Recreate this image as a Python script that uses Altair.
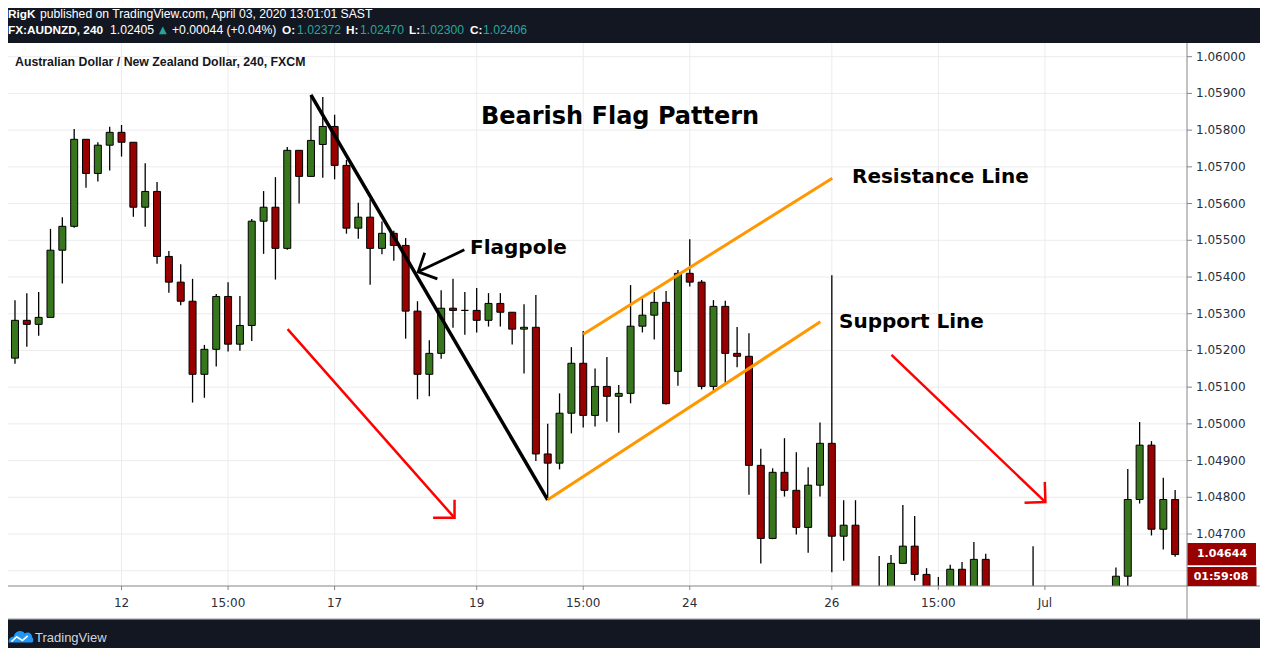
import altair as alt
import pandas as pd

# ---------------- candle data (AUD/NZD, 240) ----------------
opens = [
    1.05179, 1.05282, 1.05271, 1.05290, 1.05473, 1.05538, 1.05775, 1.05682, 1.05759, 1.05794,
    1.05767, 1.05590, 1.05633, 1.05456, 1.05386, 1.05334, 1.05135, 1.05203, 1.05347, 1.05217,
    1.05268, 1.05552, 1.05590, 1.05478, 1.05745, 1.05674, 1.05761, 1.05810, 1.05704, 1.05533,
    1.05563, 1.05478, 1.05519, 1.05486, 1.05307, 1.05135, 1.05192, 1.05315, 1.05309, 1.05309,
    1.05282, 1.05328, 1.05304, 1.05258, 1.05263, 1.04918, 1.04893, 1.05029, 1.05165, 1.05023,
    1.05102, 1.05075, 1.05083, 1.05266, 1.05296, 1.05331, 1.05143, 1.05410, 1.05386, 1.05102,
    1.05320, 1.05192, 1.05184, 1.04887, 1.04688, 1.04868, 1.04819, 1.04718, 1.04833, 1.04947,
    1.04694, 1.04724, 1.04480, 1.04510, 1.04530, 1.04620, 1.04667, 1.04590, 1.04500, 1.04510,
    1.04604, 1.04520, 1.04631, 1.04530, 1.04500, 1.04470, 1.04480, 1.04500, 1.04470, 1.04450,
    1.04480, 1.04500, 1.04520, 1.04530, 1.04585, 1.04794, 1.04942, 1.04713, 1.04794,
]
highs = [
    1.05337, 1.05356, 1.05359, 1.05531, 1.05563, 1.05803, 1.05775, 1.05767, 1.05809, 1.05814,
    1.05767, 1.05710, 1.05659, 1.05471, 1.05435, 1.05395, 1.05215, 1.05354, 1.05386, 1.05348,
    1.05558, 1.05634, 1.05672, 1.05754, 1.05745, 1.05896, 1.05890, 1.05842, 1.05719, 1.05602,
    1.05612, 1.05551, 1.05526, 1.05506, 1.05334, 1.05228, 1.05364, 1.05395, 1.05359, 1.05370,
    1.05356, 1.05356, 1.05304, 1.05326, 1.05351, 1.05000, 1.05083, 1.05209, 1.05253, 1.05151,
    1.05182, 1.05106, 1.05378, 1.05342, 1.05359, 1.05362, 1.05419, 1.05503, 1.05392, 1.05337,
    1.05335, 1.05264, 1.05247, 1.04932, 1.04879, 1.04961, 1.04923, 1.04882, 1.05004, 1.05405,
    1.04792, 1.04792, 1.04540, 1.04640, 1.04643, 1.04779, 1.04749, 1.04607, 1.04583, 1.04616,
    1.04624, 1.04678, 1.04646, 1.04550, 1.04530, 1.04520, 1.04667, 1.04540, 1.04510, 1.04500,
    1.04530, 1.04540, 1.04550, 1.04609, 1.04877, 1.05005, 1.04953, 1.04853, 1.04820,
]
lows = [
    1.05164, 1.05210, 1.05240, 1.05290, 1.05382, 1.05534, 1.05643, 1.05660, 1.05690, 1.05728,
    1.05564, 1.05537, 1.05436, 1.05357, 1.05323, 1.05058, 1.05071, 1.05156, 1.05197, 1.05199,
    1.05226, 1.05463, 1.05393, 1.05474, 1.05600, 1.05674, 1.05670, 1.05666, 1.05518, 1.05504,
    1.05379, 1.05462, 1.05444, 1.05232, 1.05067, 1.05075, 1.05177, 1.05262, 1.05243, 1.05249,
    1.05265, 1.05265, 1.05216, 1.05137, 1.04899, 1.04793, 1.04876, 1.04974, 1.04990, 1.04993,
    1.05006, 1.04976, 1.05056, 1.05249, 1.05230, 1.05053, 1.05104, 1.05374, 1.05094, 1.05090,
    1.05112, 1.05154, 1.04807, 1.04620, 1.04686, 1.04802, 1.04699, 1.04649, 1.04802, 1.04596,
    1.04627, 1.04450, 1.04420, 1.04460, 1.04500, 1.04620, 1.04573, 1.04470, 1.04460, 1.04490,
    1.04500, 1.04510, 1.04500, 1.04480, 1.04450, 1.04420, 1.04440, 1.04430, 1.04410, 1.04400,
    1.04430, 1.04460, 1.04480, 1.04510, 1.04550, 1.04783, 1.04696, 1.04658, 1.04638,
]
closes = [
    1.05282, 1.05271, 1.05290, 1.05473, 1.05538, 1.05775, 1.05682, 1.05759, 1.05794, 1.05767,
    1.05590, 1.05633, 1.05456, 1.05386, 1.05334, 1.05135, 1.05203, 1.05347, 1.05217, 1.05268,
    1.05552, 1.05590, 1.05478, 1.05745, 1.05674, 1.05772, 1.05810, 1.05704, 1.05533, 1.05563,
    1.05478, 1.05519, 1.05486, 1.05307, 1.05135, 1.05192, 1.05315, 1.05309, 1.05309, 1.05282,
    1.05328, 1.05304, 1.05258, 1.05263, 1.04918, 1.04893, 1.05029, 1.05165, 1.05023, 1.05102,
    1.05075, 1.05083, 1.05266, 1.05296, 1.05331, 1.05055, 1.05410, 1.05386, 1.05102, 1.05320,
    1.05192, 1.05184, 1.04887, 1.04688, 1.04868, 1.04819, 1.04718, 1.04833, 1.04947, 1.04694,
    1.04724, 1.04480, 1.04510, 1.04530, 1.04620, 1.04667, 1.04590, 1.04500, 1.04510, 1.04604,
    1.04520, 1.04631, 1.04530, 1.04500, 1.04470, 1.04480, 1.04500, 1.04470, 1.04450, 1.04480,
    1.04500, 1.04520, 1.04530, 1.04585, 1.04794, 1.04942, 1.04713, 1.04794, 1.04644,
]
slots = list(range(len(opens)))

# axis ticks
x_tick_pos = [9, 18, 27, 39, 48, 57, 69, 78, 87]
x_tick_labels = ["12", "15:00", "17", "19", "15:00", "24", "26", "15:00", "Jul"]
y_ticks = [1.046, 1.047, 1.048, 1.049, 1.050, 1.051, 1.052, 1.053,
           1.054, 1.055, 1.056, 1.057, 1.058, 1.059, 1.060]

# annotation drawings (bar slot, price)
flagpole_x, flagpole_y = [25, 45], [1.05896, 1.04793]
resist_x, resist_y = [48, 69.04], [1.05244, 1.05669]
support_x, support_y = [45, 68.03], [1.04793, 1.05278]
pointer_x, pointer_y = [37.96, 34.06], [1.05474, 1.05414]
pointer_head_x, pointer_head_y = [34.61, 34.06, 35.68], [1.05466, 1.05414, 1.05395]
arrow1_x, arrow1_y = [23.03, 37.13], [1.05258, 1.04744]
arrow1_head_x, arrow1_head_y = [37.13, 37.13, 35.32], [1.04793, 1.04744, 1.04744]
arrow2_x, arrow2_y = [74.04, 87.04], [1.05188, 1.04787]
arrow2_head_x, arrow2_head_y = [86.99, 87.04, 85.28], [1.04842, 1.04787, 1.04785]

last_price = "1.04644"
countdown = "01:59:08"

# ---------------- build ----------------
GREEN = "#38761d"
RED = "#990000"
GRID = "#ececec"
AXIS = "#858585"
LABEL = "#2a2e39"
DARK = "#131722"
TEAL = "#26a69a"
WHITE = "#ffffff"
W, H = 1179, 543

df = pd.DataFrame({"i": slots, "open": opens, "high": highs, "low": lows, "close": closes})
df["dir"] = ["up" if c >= o else "down" for o, c in zip(opens, closes)]

xscale = alt.Scale(domain=[-0.1675, 98.58], nice=False, zero=False)
yscale = alt.Scale(domain=[1.045584, 1.060373], nice=False, zero=False)


def X(field):
    return alt.X(field, scale=xscale, axis=None)


def Y(field):
    return alt.Y(field, scale=yscale, axis=None)


xt = pd.DataFrame({"pos": x_tick_pos, "lab": x_tick_labels})
yt = pd.DataFrame({"p": y_ticks, "lab": [f"{v:.5f}" for v in y_ticks]})

# gridlines and axes built from the tick lists through the scales
grid_h = alt.Chart(yt).mark_rule(color=GRID, strokeWidth=1).encode(
    y=Y("p:Q"), x=alt.value(0), x2=alt.value(W))
grid_v = alt.Chart(xt).mark_rule(color=GRID, strokeWidth=1).encode(
    x=X("pos:Q"), y=alt.value(0), y2=alt.value(H))
y_ticks_m = alt.Chart(yt).mark_rule(color=AXIS, strokeWidth=1).encode(
    y=Y("p:Q"), x=alt.value(W), x2=alt.value(W + 5))
# the lowest label sits under the countdown box in the reference, so it is not drawn
y_labels = alt.Chart(yt).transform_filter("datum.p > 1.0465").mark_text(
    align="left", baseline="middle", font="DejaVu Sans", fontSize=12, color=LABEL).encode(
    y=Y("p:Q"), x=alt.value(W + 9), text="lab:N")
x_ticks_m = alt.Chart(xt).mark_rule(color=AXIS, strokeWidth=1).encode(
    x=X("pos:Q"), y=alt.value(H), y2=alt.value(H + 4))
x_labels = alt.Chart(xt).mark_text(align="center", baseline="middle", font="DejaVu Sans",
                                   fontSize=12, color=LABEL).encode(
    x=X("pos:Q"), y=alt.value(H + 17), text="lab:N")

wicks = alt.Chart(df).mark_rule(color="black", strokeWidth=1.3, clip=True).encode(
    x=X("i:Q"), y=Y("low:Q"), y2="high:Q")
bodies = alt.Chart(df).mark_bar(size=7, stroke="black", strokeWidth=1, clip=True).encode(
    x=X("i:Q"), y=Y("open:Q"), y2="close:Q",
    color=alt.Color("dir:N", scale=alt.Scale(domain=["up", "down"], range=[GREEN, RED]), legend=None),
)


def poly(xs, ys, color, width):
    d = pd.DataFrame({"x": xs, "y": ys, "k": list(range(len(xs)))})
    return alt.Chart(d).mark_line(color=color, strokeWidth=width, clip=True).encode(
        x=X("x:Q"), y=Y("y:Q"), order=alt.Order("k:Q"))


one = pd.DataFrame({"k": [0]})


def box(x1, x2, y1, y2, fill):
    return alt.Chart(one).mark_rect(fill=fill).encode(
        x=alt.value(x1), x2=alt.value(x2), y=alt.value(y1), y2=alt.value(y2))


def hline(x1, x2, y, color):
    return alt.Chart(one).mark_rule(color=color, strokeWidth=1).encode(
        x=alt.value(x1), x2=alt.value(x2), y=alt.value(y))


def vline(x, y1, y2, color):
    return alt.Chart(one).mark_rule(color=color, strokeWidth=1).encode(
        x=alt.value(x), y=alt.value(y1), y2=alt.value(y2))


def label(txt, x, y, size=12, color="#000000", weight="normal", font="Liberation Sans", align="left"):
    return alt.Chart(one).mark_text(text=txt, align=align, baseline="middle", fontSize=size,
                                    color=color, fontWeight=weight, font=font).encode(
        x=alt.value(x), y=alt.value(y))


# TradingView cloud logo as custom symbol paths
CLOUD = ("M -1 0.5 C -1.05 0.2 -0.85 0.0 -0.6 0.02 C -0.5 -0.45 0.05 -0.6 0.3 -0.25 "
         "C 0.55 -0.45 0.95 -0.25 0.9 0.08 C 1.05 0.12 1.05 0.5 0.85 0.5 Z")
ZIGZAG = "M -0.78 0.42 L -0.35 0.02 L 0.12 0.32 L 0.55 -0.05"
logo_cloud = alt.Chart(one).mark_point(shape=CLOUD, filled=True, fill="#2196f3", opacity=1,
                                       size=600, strokeWidth=0).encode(
    x=alt.value(13), y=alt.value(593.5))
logo_zig = alt.Chart(one).mark_point(shape=ZIGZAG, filled=False, stroke=WHITE, opacity=1,
                                     size=600, strokeWidth=1.6).encode(
    x=alt.value(13), y=alt.value(593.5))

HF = 12.2  # header font size
HB = 11.8  # header bold font size
L1, L2 = -28.8, -13
layers = [
    grid_h, grid_v,
    wicks, bodies,
    poly(flagpole_x, flagpole_y, "#000000", 3.5),
    poly(pointer_x, pointer_y, "#000000", 2.8),
    poly(pointer_head_x, pointer_head_y, "#000000", 2.8),
    poly(resist_x, resist_y, "#ff9800", 3),
    poly(support_x, support_y, "#ff9800", 3),
    poly(arrow1_x, arrow1_y, "#ff0000", 2.5),
    poly(arrow1_head_x, arrow1_head_y, "#ff0000", 2.5),
    poly(arrow2_x, arrow2_y, "#ff0000", 2.5),
    poly(arrow2_head_x, arrow2_head_y, "#ff0000", 2.5),
    label("Bearish Flag Pattern", 473, 74, size=24, weight="bold", font="DejaVu Sans"),
    label("Flagpole", 462, 205, size=20, weight="bold", font="DejaVu Sans"),
    label("Resistance Line", 844, 134, size=20, weight="bold", font="DejaVu Sans"),
    label("Support Line", 831, 279, size=20, weight="bold", font="DejaVu Sans"),
    label("Australian Dollar / New Zealand Dollar, 240, FXCM", 7, 18.5, size=12.3,
          weight="bold", color="#131722"),
    # axes
    y_ticks_m, y_labels, x_ticks_m, x_labels,
    vline(W, 0, 576, AXIS),
    hline(0, 1253, H, AXIS),
    hline(0, 1253, 576, "#9598a1"),
    # dark surround
    box(-10, 1262, -40, 0, DARK),
    box(-10, 1262, 576.5, 610, DARK),
    box(1253, 1262, -40, 610, DARK),
    # last price / countdown boxes
    box(1179.5, 1248, 500, 522.3, RED),
    box(1179.5, 1248.5, 524, 543, RED),
    label(last_price, 1214, 511, size=11, color=WHITE, weight="bold", font="DejaVu Sans", align="center"),
    label(countdown, 1213, 534, size=11, color=WHITE, weight="bold", font="DejaVu Sans", align="center"),
    # header line 1
    label("RigK", 0, L1, size=HB, color=WHITE, weight="bold"),
    label("published on TradingView.com, April 03, 2020 13:01:01 SAST", 32, L1, size=HF, color=WHITE),
    # header line 2
    label("FX:AUDNZD, 240", 0, L2, size=HB, color=WHITE, weight="bold"),
    label("1.02405", 102, L2, size=HF, color=WHITE),
    label("\u25b2", 151, L2, color=TEAL, size=10, font="DejaVu Sans"),
    label("+0.00044 (+0.04%)", 164, L2, size=HF, color=WHITE),
    label("O:", 274, L2, size=HB, color=WHITE, weight="bold"),
    label("1.02372", 289, L2, size=HF, color=TEAL),
    label("H:", 338, L2, size=HB, color=WHITE, weight="bold"),
    label("1.02470", 352, L2, size=HF, color=TEAL),
    label("L:", 401, L2, size=HB, color=WHITE, weight="bold"),
    label("1.02300", 412, L2, size=HF, color=TEAL),
    label("C:", 462, L2, size=HB, color=WHITE, weight="bold"),
    label("1.02406", 475, L2, size=HF, color=TEAL),
    # footer logo
    logo_cloud, logo_zig,
    label("TradingView", 27, 594.7, size=13, color="#d1d4dc"),
]

chart = alt.layer(*layers).properties(
    width=W, height=H,
    autosize=alt.AutoSizeParams(type="none"),
    padding={"left": 0, "top": 35, "right": 73, "bottom": 62},
    background="#ffffff",
).configure_view(strokeWidth=0)

chart.save("out.html", embed_options={"renderer": "svg", "actions": False})
